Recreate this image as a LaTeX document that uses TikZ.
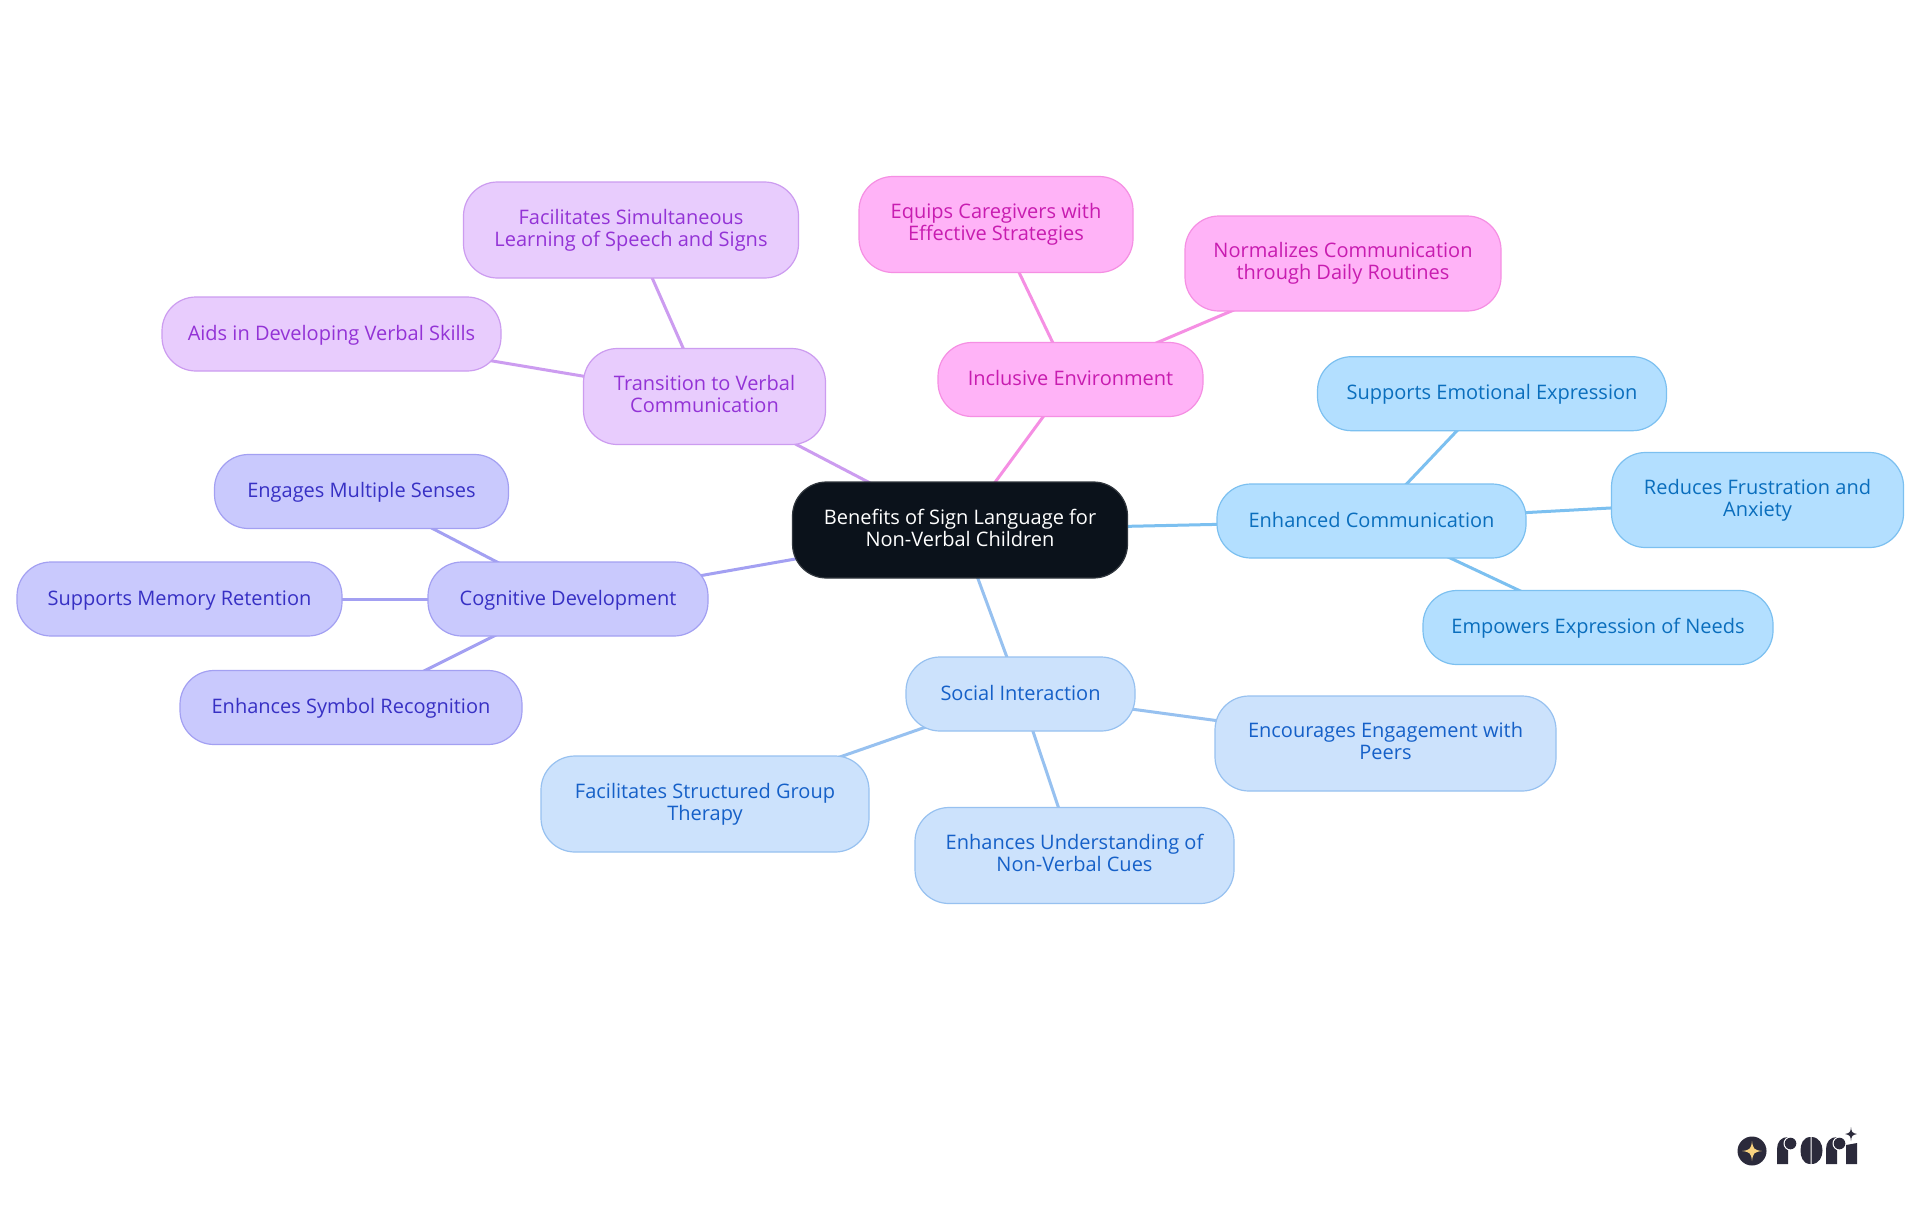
\documentclass[tikz,border=0pt]{standalone}
\usepackage{fontspec}
\setmainfont{Open Sans}
\usetikzlibrary{backgrounds}
\definecolor{rootfill}{HTML}{0B121B}
\definecolor{commfill}{HTML}{B3DFFF}
\definecolor{commline}{HTML}{7CC0F0}
\definecolor{commtext}{HTML}{0A6EBD}
\definecolor{socfill}{HTML}{CCE2FC}
\definecolor{socline}{HTML}{97C1F0}
\definecolor{soctext}{HTML}{1560C8}
\definecolor{cogfill}{HTML}{C9C9FD}
\definecolor{cogline}{HTML}{A3A0F2}
\definecolor{cogtext}{HTML}{3730C4}
\definecolor{verbfill}{HTML}{E8CCFD}
\definecolor{verbline}{HTML}{CC9CF0}
\definecolor{verbtext}{HTML}{9333D6}
\definecolor{inclfill}{HTML}{FFB3F7}
\definecolor{inclline}{HTML}{F58FE3}
\definecolor{incltext}{HTML}{C81CB0}
\definecolor{logodark}{HTML}{2B2A3B}
\definecolor{logostar}{HTML}{F8D27F}
\newcommand{\mapstrut}{\rule[-2.2pt]{0pt}{10.86pt}}
\tikzset{
  mapbox/.style={rectangle,rounded corners=17pt,line width=0.6pt,align=center,inner sep=0pt,
    font=\fontsize{10}{11}\selectfont,execute at begin node=\mapstrut,execute at end node=\mapstrut},
  rootbox/.style={mapbox,fill=rootfill,draw=rootfill!85!white,text=white},
  commbox/.style={mapbox,fill=commfill,draw=commline,text=commtext},
  socbox/.style={mapbox,fill=socfill,draw=socline,text=soctext},
  cogbox/.style={mapbox,fill=cogfill,draw=cogline,text=cogtext},
  verbbox/.style={mapbox,fill=verbfill,draw=verbline,text=verbtext},
  inclbox/.style={mapbox,fill=inclfill,draw=inclline,text=incltext},
  wire/.style={line width=1.5pt}
}
\begin{document}
\begin{tikzpicture}[x=0.5pt,y=-0.5pt]
\useasboundingbox (0,0) rectangle (1920,1215);
\node[rootbox,minimum width=167.5pt,minimum height=48pt] (root) at (960,530) {Benefits of Sign Language for\\Non-Verbal Children};

\node[commbox,minimum width=154.5pt,minimum height=37pt] (comm) at (1371.5,521) {Enhanced Communication};
\node[commbox,minimum width=174.5pt,minimum height=37pt] (emotion) at (1492,393.7) {Supports Emotional Expression};
\node[commbox,minimum width=146pt,minimum height=47.5pt] (anxiety) at (1757.5,500) {Reduces Frustration and\\Anxiety};
\node[commbox,minimum width=175pt,minimum height=37pt] (needs) at (1598,627.5) {Empowers Expression of Needs};

\node[socbox,minimum width=114.5pt,minimum height=37pt] (social) at (1020.5,694) {Social Interaction};
\node[socbox,minimum width=170.5pt,minimum height=47.5pt] (peers) at (1385.5,743.5) {Encourages Engagement with\\Peers};
\node[socbox,minimum width=159.5pt,minimum height=48pt] (cues) at (1074.5,855.5) {Enhances Understanding of\\Non-Verbal Cues};
\node[socbox,minimum width=164pt,minimum height=48pt] (group) at (705,804) {Facilitates Structured Group\\Therapy};

\node[cogbox,minimum width=140pt,minimum height=37pt] (cog) at (568,599) {Cognitive Development};
\node[cogbox,minimum width=147pt,minimum height=37pt] (senses) at (361.5,491.5) {Engages Multiple Senses};
\node[cogbox,minimum width=162.5pt,minimum height=37pt] (memory) at (179.5,599) {Supports Memory Retention};
\node[cogbox,minimum width=171pt,minimum height=37pt] (symbol) at (351,707.5) {Enhances Symbol Recognition};

\node[verbbox,minimum width=121pt,minimum height=48pt] (verbal) at (704.5,396.5) {Transition to Verbal\\Communication};
\node[verbbox,minimum width=167.5pt,minimum height=48pt] (speech) at (631,230) {Facilitates Simultaneous\\Learning of Speech and Signs};
\node[verbbox,minimum width=169.5pt,minimum height=37pt] (skills) at (331.5,334) {Aids in Developing Verbal Skills};

\node[inclbox,minimum width=132.5pt,minimum height=37pt] (incl) at (1070.5,379.5) {Inclusive Environment};
\node[inclbox,minimum width=137pt,minimum height=48pt] (care) at (996,224.5) {Equips Caregivers with\\Effective Strategies};
\node[inclbox,minimum width=158pt,minimum height=47.5pt] (daily) at (1343,263.5) {Normalizes Communication\\through Daily Routines};

\begin{scope}[on background layer]
\fill[white] (0,0) rectangle (1920,1215);
\foreach \a/\b in {root/comm,comm/emotion,comm/anxiety,comm/needs}
  \draw[wire,commline] (\a.center) -- (\b.center);
\foreach \a/\b in {root/social,social/peers,social/cues,social/group}
  \draw[wire,socline] (\a.center) -- (\b.center);
\foreach \a/\b in {root/cog,cog/senses,cog/memory,cog/symbol}
  \draw[wire,cogline] (\a.center) -- (\b.center);
\foreach \a/\b in {root/verbal,verbal/speech,verbal/skills}
  \draw[wire,verbline] (\a.center) -- (\b.center);
\foreach \a/\b in {root/incl,incl/care,incl/daily}
  \draw[wire,inclline] (\a.center) -- (\b.center);
\end{scope}

% logo
\fill[logodark] (1752,1151) circle (14.5);
\fill[logostar] (1752,1141) .. controls (1753,1149) and (1754,1150) .. (1762,1151)
  .. controls (1754,1152) and (1753,1153) .. (1752,1161)
  .. controls (1751,1153) and (1750,1152) .. (1742,1151)
  .. controls (1750,1150) and (1751,1149) .. (1752,1141) -- cycle;
\foreach \d in {0,49}{
  \fill[logodark,xshift=\d*0.5pt] (1777,1164) -- (1777,1149) .. controls (1777,1142) and (1781,1137) .. (1788,1137)
    -- (1788,1164) -- cycle;
  \fill[white,xshift=\d*0.5pt] (1790.5,1143.5) circle (7);
  \fill[logodark,xshift=\d*0.5pt] (1790.5,1143.5) circle (5.8);
  \fill[logodark,xshift=\d*0.5pt] (1781,1164) -- (1781,1150) -- (1788,1150) -- (1788,1164) -- cycle;
}
\fill[logodark] (1810.5,1164) .. controls (1803,1164) and (1800.5,1157) .. (1800.5,1150.5) .. controls (1800.5,1144) and (1803,1137) .. (1810.5,1137) -- cycle;
\fill[logodark] (1811.5,1164) .. controls (1819,1164) and (1822.5,1157) .. (1822.5,1150.5) .. controls (1822.5,1144) and (1819,1137) .. (1811.5,1137) -- cycle;
\fill[logodark] (1846,1164) -- (1846,1145) -- (1857,1143) -- (1857,1164) -- cycle;
\fill[logodark] (1851,1127) .. controls (1851.5,1132) and (1852,1133) .. (1857,1134) .. controls (1852,1135) and (1851.5,1136) .. (1851,1141)
  .. controls (1850.5,1136) and (1850,1135) .. (1845,1134) .. controls (1850,1133) and (1850.5,1132) .. (1851,1127) -- cycle;
\end{tikzpicture}
\end{document}
